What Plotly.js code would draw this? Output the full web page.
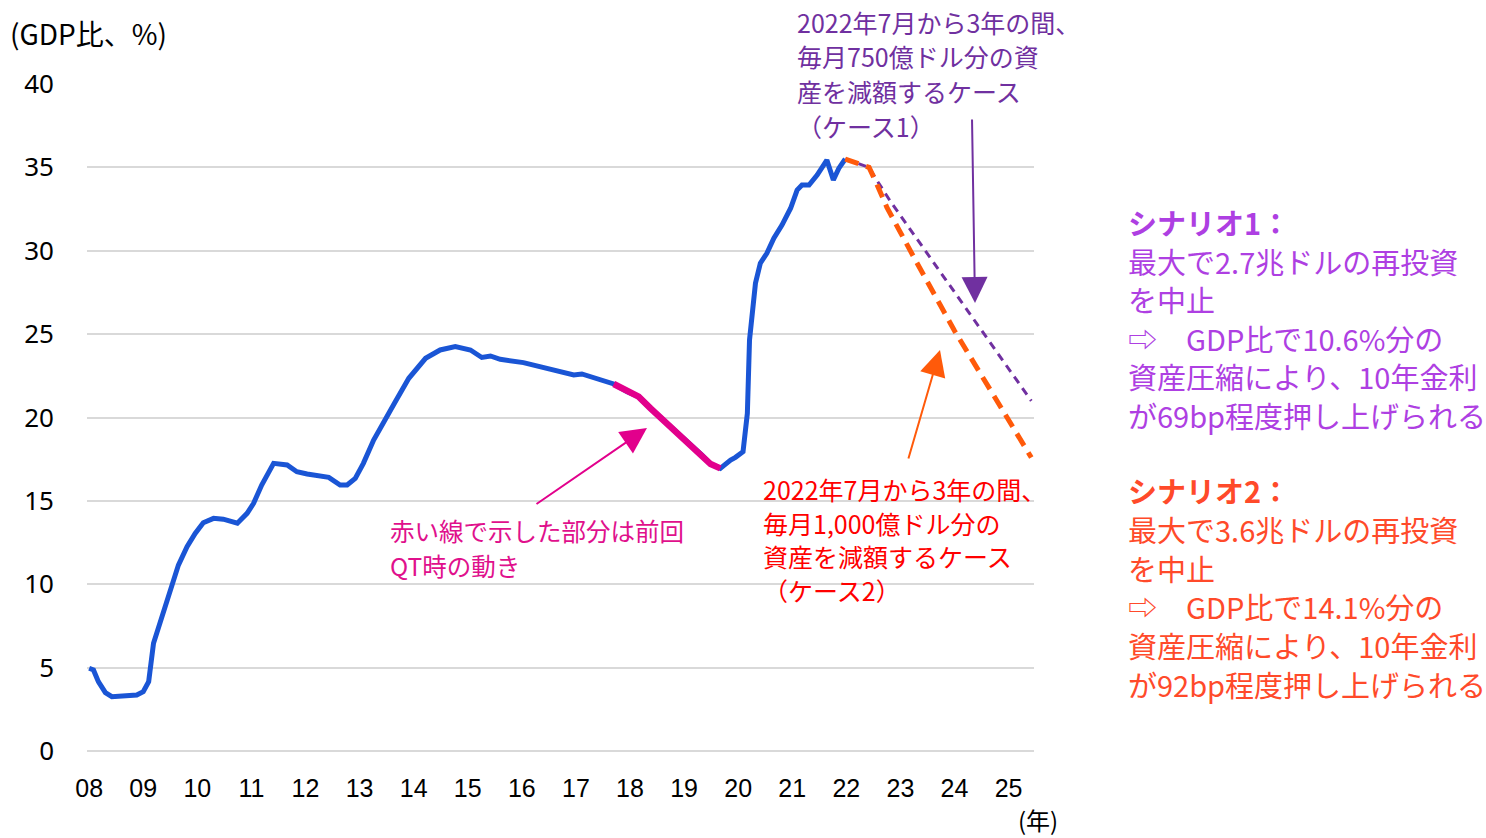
<!DOCTYPE html>
<html>
<head>
<meta charset="utf-8">
<script src="https://cdn.plot.ly/plotly-3.0.1.min.js"></script>
<style>html,body{margin:0;padding:0;background:#fff;}#chart{width:1486px;height:838px;}</style>
</head>
<body>
<div id="chart"></div>
<script>
// Fed balance sheet (GDP比、%) — decimal years
const histYears = [2008.00,2008.08,2008.17,2008.30,2008.42,2008.63,2008.88,2009.00,2009.10,2009.19,2009.28,2009.40,2009.53,2009.65,2009.81,2009.96,2010.11,2010.30,2010.48,2010.74,2010.92,2011.04,2011.19,2011.41,2011.66,2011.84,2012.03,2012.21,2012.43,2012.64,2012.77,2012.92,2013.07,2013.26,2013.44,2013.66,2013.91,2014.22,2014.49,2014.77,2015.05,2015.26,2015.42,2015.60,2016.03,2016.28,2016.59,2016.96,2017.11,2017.39,2017.70,2017.95,2018.16,2018.38,2018.62,2018.87,2019.12,2019.33,2019.49,2019.67,2019.86,2019.95,2020.09,2020.17,2020.21,2020.26,2020.32,2020.41,2020.53,2020.66,2020.81,2020.97,2021.09,2021.18,2021.31,2021.46,2021.64,2021.76,2021.86,2021.98];
const histValues = [4.96,4.86,4.16,3.50,3.26,3.30,3.36,3.56,4.16,6.46,7.36,8.46,9.85,11.15,12.25,13.05,13.69,13.95,13.90,13.66,14.25,14.85,15.95,17.25,17.15,16.75,16.61,16.49,16.41,15.95,15.95,16.35,17.25,18.65,19.75,20.95,22.35,23.55,24.05,24.25,24.05,23.60,23.69,23.49,23.29,23.09,22.89,22.55,22.61,22.35,22.01,21.55,21.25,20.55,19.85,19.05,18.35,17.75,17.21,16.95,17.45,17.61,17.95,20.25,24.65,26.25,28.05,29.25,29.85,30.75,31.54,32.55,33.64,33.94,33.94,34.54,35.44,34.24,34.94,35.50];
// previous QT period (red line)
const qtStart = 2017.70;
const qtEnd = 2019.67;
// Case 1: 750億ドル/月
const case1Years = [2021.98,2022.25,2022.42,2022.55,2022.82,2025.42];
const case1Values = [35.50,35.20,35.00,34.30,32.94,21.00];
// Case 2: 1,000億ドル/月
const case2Years = [2021.98,2022.25,2022.42,2022.55,2022.75,2023.25,2024.00,2025.42];
const case2Values = [35.50,35.20,35.00,34.10,32.60,29.60,25.20,17.60];
// axis ticks
const tickYears = [2008,2009,2010,2011,2012,2013,2014,2015,2016,2017,2018,2019,2020,2021,2022,2023,2024,2025];
const tickLabels = ['08','09','10','11','12','13','14','15','16','17','18','19','20','21','22','23','24','25'];
const yTicks = [0,5,10,15,20,25,30,35,40];

const qtYears = [], qtValues = [];
histYears.forEach((yr, i) => { if (yr >= qtStart && yr <= qtEnd) { qtYears.push(yr); qtValues.push(histValues[i]); } });

const traces = [
  {x: histYears, y: histValues, mode: 'lines', line: {color: '#1A55D5', width: 5}, hoverinfo: 'skip'},
  {x: qtYears, y: qtValues, mode: 'lines', line: {color: '#E2008C', width: 6.5}, hoverinfo: 'skip'},
  {x: case1Years, y: case1Values, mode: 'lines', line: {color: '#7030A0', width: 3, dash: '8px,6px'}, hoverinfo: 'skip'},
  {x: case2Years, y: case2Values, mode: 'lines', line: {color: '#FF5A0A', width: 5, dash: '14px,8px'}, hoverinfo: 'skip'}
];

const L = 87, R = 1034, T = 84, B = 751;
const px = v => (v - L) / (R - L);
const py = v => (B - v) / (B - T);
const annotations = [];
function addLines(lines, x, y0, dy, size, color, bold, family) {
  lines.forEach((t, i) => {
    annotations.push({xref: 'paper', yref: 'paper', x: px(x), y: py(y0 + i * dy), xanchor: 'left', yanchor: 'middle',
      showarrow: false, text: bold && i === 0 ? '<b>' + t + '</b>' : t,
      font: {size: size, color: color, family: family || '"Noto Sans CJK JP", "Noto Sans", sans-serif'}});
  });
}
addLines(['(GDP比、%)'], 8, 33, 0, 28, '#000000', false);
addLines(['(年)'], 1016, 819, 0, 24, '#000000', false);
addLines(['2022年7月から3年の間、', '毎月750億ドル分の資', '産を減額するケース', '（ケース1）'], 795, 22, 34.5, 25, '#7030A0', false);
addLines(['2022年7月から3年の間、', '毎月1,000億ドル分の', '資産を減額するケース', '（ケース2）'], 761, 489, 33.7, 25, '#FF0000', false);
addLines(['赤い線で示した部分は前回', 'QT時の動き'], 388, 530, 35, 24.5, '#E0108C', false);
addLines(['シナリオ1：', '最大で2.7兆ドルの再投資', 'を中止', '⇨　GDP比で10.6%分の', '資産圧縮により、10年金利', 'が69bp程度押し上げられる'], 1126, 222, 38.6, 29, '#AE3FE2', true);
addLines(['シナリオ2：', '最大で3.6兆ドルの再投資', 'を中止', '⇨　GDP比で14.1%分の', '資産圧縮により、10年金利', 'が92bp程度押し上げられる'], 1126, 490, 38.8, 29, '#FF4A2A', true);

function arrow(x1, y1, x2, y2, color, w, s) {
  annotations.push({xref: 'paper', yref: 'paper', axref: 'paper', ayref: 'paper',
    x: px(x2), y: py(y2), ax: px(x1), ay: py(y1), showarrow: true, arrowhead: 2, arrowsize: s, arrowwidth: w,
    arrowcolor: color, text: '', standoff: 0, startstandoff: 0});
}
arrow(972, 118, 975, 303, '#7030A0', 2, 2.6);
arrow(908, 460, 940, 350, '#FF5A0A', 2, 2.6);
arrow(535, 505, 647, 428, '#E2008C', 2, 2.6);

const layout = {
  width: 1486, height: 838,
  margin: {l: L, r: 1486 - R, t: T, b: 838 - B, pad: 0},
  paper_bgcolor: '#ffffff', plot_bgcolor: '#ffffff',
  showlegend: false,
  xaxis: {range: [2007.96, 2025.47], tickvals: tickYears, ticktext: tickLabels, showgrid: false, zeroline: false,
    showline: false, ticks: '', ticklabelstandoff: 20,
    tickfont: {family: '"Liberation Sans Narrow", "Liberation Sans", Arial, sans-serif', size: 25, color: '#000'}},
  yaxis: {range: [0, 40], tickvals: yTicks, showgrid: true, gridcolor: '#D9D9D9', gridwidth: 2,
    zeroline: true, zerolinecolor: '#D9D9D9', zerolinewidth: 2, showline: false, ticks: '', ticklabelstandoff: 32,
    tickfont: {family: '"Noto Sans", sans-serif', size: 26, color: '#000'}},
  annotations: annotations
};
Plotly.newPlot('chart', traces, layout, {staticPlot: true, displayModeBar: false});
</script>
</body>
</html>
